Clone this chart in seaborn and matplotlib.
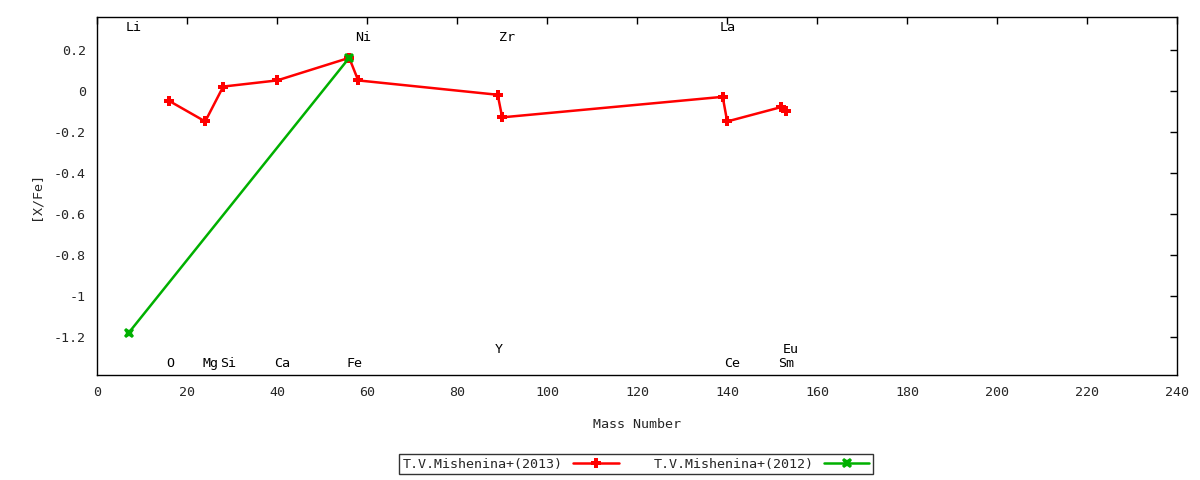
import pandas as pd
import matplotlib
matplotlib.use("Agg")
import matplotlib.pyplot as plt
import seaborn as sns

# data
mass_2013 = [16, 24, 28, 40, 56, 58, 89, 90, 139, 140, 152, 153]
xfe_2013 = [-0.05, -0.15, 0.02, 0.05, 0.16, 0.05, -0.02, -0.13, -0.03, -0.15, -0.08, -0.10]
mass_2012 = [7, 56]
xfe_2012 = [-1.18, 0.16]

# element labels: name, mass number, label height
elem_names = ["Li", "O", "Mg", "Si", "Ca", "Fe", "Ni", "Y", "Zr", "La", "Ce", "Sm", "Eu"]
elem_mass = [7, 16, 24, 28, 40, 56, 58, 89, 90, 139, 140, 152, 153]
elem_y = [0.31, -1.33, -1.33, -1.33, -1.33, -1.33, 0.26, -1.26, 0.26, 0.31, -1.33, -1.33, -1.26]

df13 = pd.DataFrame({"mass": mass_2013, "xfe": xfe_2013})
df12 = pd.DataFrame({"mass": mass_2012, "xfe": xfe_2012})

sns.set_style("white")
plt.rcParams["font.family"] = ["DejaVu Sans Mono"]
plt.rcParams["axes.unicode_minus"] = False
fs = 9.6

fig, ax = plt.subplots(figsize=(12, 4.8), dpi=100)
fig.subplots_adjust(left=0.081, right=0.981, top=0.965, bottom=0.219)

sns.lineplot(data=df13, x="mass", y="xfe", ax=ax, color="#ff0000", marker="P",
             markersize=7.5, markeredgewidth=0, linewidth=1.8, estimator=None,
             sort=False, label="T.V.Mishenina+(2013)")
sns.lineplot(data=df12, x="mass", y="xfe", ax=ax, color="#00b000", marker="X",
             markersize=7.5, markeredgewidth=0, linewidth=1.8, estimator=None,
             sort=False, label="T.V.Mishenina+(2012)")

for name, m, yy in zip(elem_names, elem_mass, elem_y):
    ax.text(m - 0.6, yy, name, ha="left", va="center", fontsize=fs, color="black")

ax.set_xlim(0, 240)
ax.set_ylim(-1.385, 0.36)
ax.set_xticks(range(0, 241, 20))
ax.set_yticks([0.2, 0, -0.2, -0.4, -0.6, -0.8, -1, -1.2])
ax.set_yticklabels(["0.2", "0", "-0.2", "-0.4", "-0.6", "-0.8", "-1", "-1.2"])
ax.tick_params(direction="in", length=5, top=True, right=True, labelsize=fs,
               color="black", width=1, pad=8)
for s in ax.spines.values():
    s.set_color("black")
    s.set_linewidth(1)

ax.set_xlabel("Mass Number", fontsize=fs, labelpad=14)
ax.set_ylabel("[X/Fe]", fontsize=fs, labelpad=8)

leg = ax.legend(loc="upper center", bbox_to_anchor=(0.499, -0.222), ncol=2,
                markerfirst=False, frameon=True, fancybox=False, fontsize=fs,
                handlelength=3.4, columnspacing=2.6, borderpad=0.25,
                handletextpad=0.8, borderaxespad=0)
leg.get_frame().set_edgecolor("black")
leg.get_frame().set_linewidth(1)

fig.savefig("out.png", dpi=100)
